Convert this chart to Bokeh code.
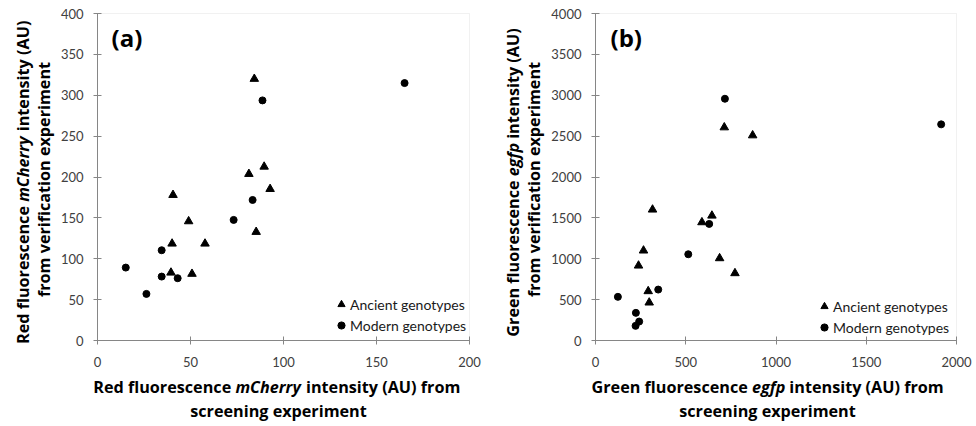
import math
from bokeh.plotting import figure
from bokeh.models import Label, Legend, LegendItem, Range1d, LinearAxis, FixedTicker, BoxAnnotation
from bokeh.layouts import row
from bokeh.embed import file_html
from bokeh.resources import INLINE

# ---------------- data ----------------
# Panel (a): red fluorescence mCherry
a_ancient_x = [84.3, 89.6, 81.4, 92.8, 40.6, 49.0, 85.3, 40.1, 57.8, 39.5, 50.8]
a_ancient_y = [320, 212.6, 203.7, 185.3, 178, 145.8, 132.8, 118.5, 118.5, 83, 81.5]
a_modern_x = [165.1, 88.7, 83.4, 73.2, 34.5, 15.2, 34.5, 43.1, 26.3]
a_modern_y = [314.9, 293.7, 171.9, 147.5, 110.4, 89.2, 78.2, 76.2, 57]
a_xticks = [0, 50, 100, 150, 200]
a_yticks = [0, 50, 100, 150, 200, 250, 300, 350, 400]

# Panel (b): green fluorescence egfp
b_ancient_x = [713.5, 870.6, 316, 645, 589.6, 266, 238.4, 687.6, 772.6, 292, 297.6]
b_ancient_y = [2607, 2509, 1601, 1527, 1446, 1100, 916, 1006, 823, 603, 464]
b_modern_x = [717, 1915, 630, 514, 124, 347.5, 223.7, 242, 222]
b_modern_y = [2957, 2644, 1426, 1055, 534, 623, 338, 232, 179]
b_xticks = [0, 500, 1000, 1500, 2000]
b_yticks = [0, 500, 1000, 1500, 2000, 2500, 3000, 3500, 4000]

series_names = ["Ancient genotypes", "Modern genotypes"]

TICK_FONT = "Lato"
LABEL_FONT = "Open Sans"
AXIS_COL = "#868686"
TICK_TXT = "#404040"
FIG_W, FIG_H = 488, 426
LBL = 16.2  # axis-title font size (px)

# approximate advance widths (em) of bold Open Sans, used to lay out mixed-style titles
W = dict(a=.586, b=.63, c=.505, d=.63, e=.581, f=.384, g=.557, h=.647, i=.297, j=.297,
         k=.6, l=.297, m=.978, n=.647, o=.618, p=.63, q=.63, r=.448, s=.498, t=.411,
         u=.647, v=.555, w=.86, x=.57, y=.555, z=.5, A=.742, C=.654, G=.741, R=.676, U=.733)
W[" "] = .26; W["("] = .324; W[")"] = .324
ITALIC_FACTOR = 0.95


def est(text, size, italic=False):
    w = sum(W.get(ch, .6) for ch in text) * size
    return w * ITALIC_FACTOR if italic else w


class Frame:
    """Maps pixel positions inside one figure canvas to data coordinates."""
    def __init__(self, px0, py0, px1, py1, xr, yr):
        self.sx = (px1 - px0) / (xr[1] - xr[0])
        self.sy = (py0 - py1) / (yr[1] - yr[0])
        self.px0, self.py0, self.xr, self.yr = px0, py0, xr, yr

    def dx(self, px):
        return self.xr[0] + (px - self.px0) / self.sx

    def dy(self, py):
        return self.yr[0] + (self.py0 - py) / self.sy


def make_panel(fr, xr, yr, xt, yt, anc_x, anc_y, mod_x, mod_y):
    p = figure(width=FIG_W, height=FIG_H, min_border=0,
               x_range=Range1d(fr.dx(0), fr.dx(FIG_W)),
               y_range=Range1d(fr.dy(FIG_H), fr.dy(0)),
               x_axis_location=None, y_axis_location=None,
               output_backend="svg", toolbar_location=None, tools="")
    p.xgrid.visible = False
    p.ygrid.visible = False
    p.outline_line_color = None
    p.background_fill_color = "white"
    p.border_fill_color = "white"
    p.add_layout(BoxAnnotation(left=xr[0], right=xr[1], bottom=yr[0], top=yr[1],
                               fill_alpha=0, line_color="#cfcfcf", line_width=1,
                               level="underlay"))
    xa = LinearAxis(fixed_location=yr[0], bounds=xr, ticker=FixedTicker(ticks=xt))
    ya = LinearAxis(fixed_location=xr[0], bounds=yr, ticker=FixedTicker(ticks=yt))
    for ax in (xa, ya):
        ax.axis_line_color = AXIS_COL
        ax.major_tick_line_color = AXIS_COL
        ax.minor_tick_line_color = None
        ax.major_tick_in = 4
        ax.major_tick_out = 4
        ax.major_label_text_font = TICK_FONT
        ax.major_label_text_font_size = "13px"
        ax.major_label_text_color = TICK_TXT
    xa.major_label_standoff = 12
    ya.major_label_standoff = 10
    p.add_layout(xa, "below")
    p.add_layout(ya, "left")
    r1 = p.scatter(anc_x, anc_y, marker="triangle", size=8.5, color="black")
    r2 = p.scatter(mod_x, mod_y, marker="circle", size=7, color="black")
    return p, r1, r2


def add_legend(p, r1, r2, loc):
    lg = Legend(items=[LegendItem(label=series_names[0], renderers=[r1]),
                       LegendItem(label=series_names[1], renderers=[r2])],
                location=loc, padding=0, margin=0, spacing=3,
                glyph_width=18, glyph_height=18, label_height=18, label_standoff=0,
                label_text_font=TICK_FONT, label_text_font_size="14px",
                label_text_color="#1a1a1a",
                border_line_color=None, background_fill_alpha=0)
    p.add_layout(lg)


def lab(p, fr, px, py, text, size, style="bold", align="left", angle=0.0):
    p.add_layout(Label(x=fr.dx(px), y=fr.dy(py), text=text, angle=angle,
                       text_font=LABEL_FONT, text_font_size=f"{size}px", text_font_style=style,
                       text_color="black", text_align=align, text_baseline="middle"))


def mixed(p, fr, parts, c, other, size, vertical):
    pre, ital, post = parts
    gap = 0.26 * size
    wp, wi, wq = est(pre, size), est(ital, size, True), est(post, size)
    total = wp + gap + wi + gap + wq
    if not vertical:
        s = c - total / 2
        lab(p, fr, s + wp, other, pre, size, "bold", "right")
        lab(p, fr, s + wp + gap, other, ital, size, "bold italic", "left")
        lab(p, fr, s + wp + gap + wi + gap, other, post, size, "bold", "left")
    else:
        # reads bottom-to-top; c is the pixel y centre, other the pixel x
        s = c + total / 2
        ang = math.pi / 2
        lab(p, fr, other, s - wp, pre, size, "bold", "right", ang)
        lab(p, fr, other, s - wp - gap, ital, size, "bold italic", "left", ang)
        lab(p, fr, other, s - wp - gap - wi - gap, post, size, "bold", "left", ang)


# ---------------- panel (a) ----------------
fa = Frame(97, 340, 469, 13, (0, 200), (0, 400))
pa, ra1, ra2 = make_panel(fa, (0, 200), (0, 400), a_xticks, a_yticks,
                          a_ancient_x, a_ancient_y, a_modern_x, a_modern_y)
add_legend(pa, ra1, ra2, (332, 92))
lab(pa, fa, 111, 37, "(a)", 24)
mixed(pa, fa, ("Red fluorescence", "mCherry", "intensity (AU) from"), 276, 386, LBL, False)
lab(pa, fa, 278, 410, "screening experiment", LBL, "bold", "center")
mixed(pa, fa, ("Red fluorescence", "mCherry", "intensity (AU)"), 182, 22, LBL, True)
lab(pa, fa, 43, 179, "from verification experiment", LBL, "bold", "center", math.pi / 2)

# ---------------- panel (b) ----------------
fb = Frame(107, 340, 468, 13, (0, 2000), (0, 4000))
pb, rb1, rb2 = make_panel(fb, (0, 2000), (0, 4000), b_xticks, b_yticks,
                          b_ancient_x, b_ancient_y, b_modern_x, b_modern_y)
add_legend(pb, rb1, rb2, (327, 90))
lab(pb, fb, 122, 37, "(b)", 24)
mixed(pb, fb, ("Green fluorescence", "egfp", "intensity (AU) from"), 279, 386, LBL, False)
lab(pb, fb, 279, 410, "screening experiment", LBL, "bold", "center")
mixed(pb, fb, ("Green fluorescence", "egfp", "intensity (AU)"), 182, 24, LBL, True)
lab(pb, fb, 45, 179, "from verification experiment", LBL, "bold", "center", math.pi / 2)

layout = row(pa, pb)
open("out.html", "w").write(file_html(layout, INLINE))
